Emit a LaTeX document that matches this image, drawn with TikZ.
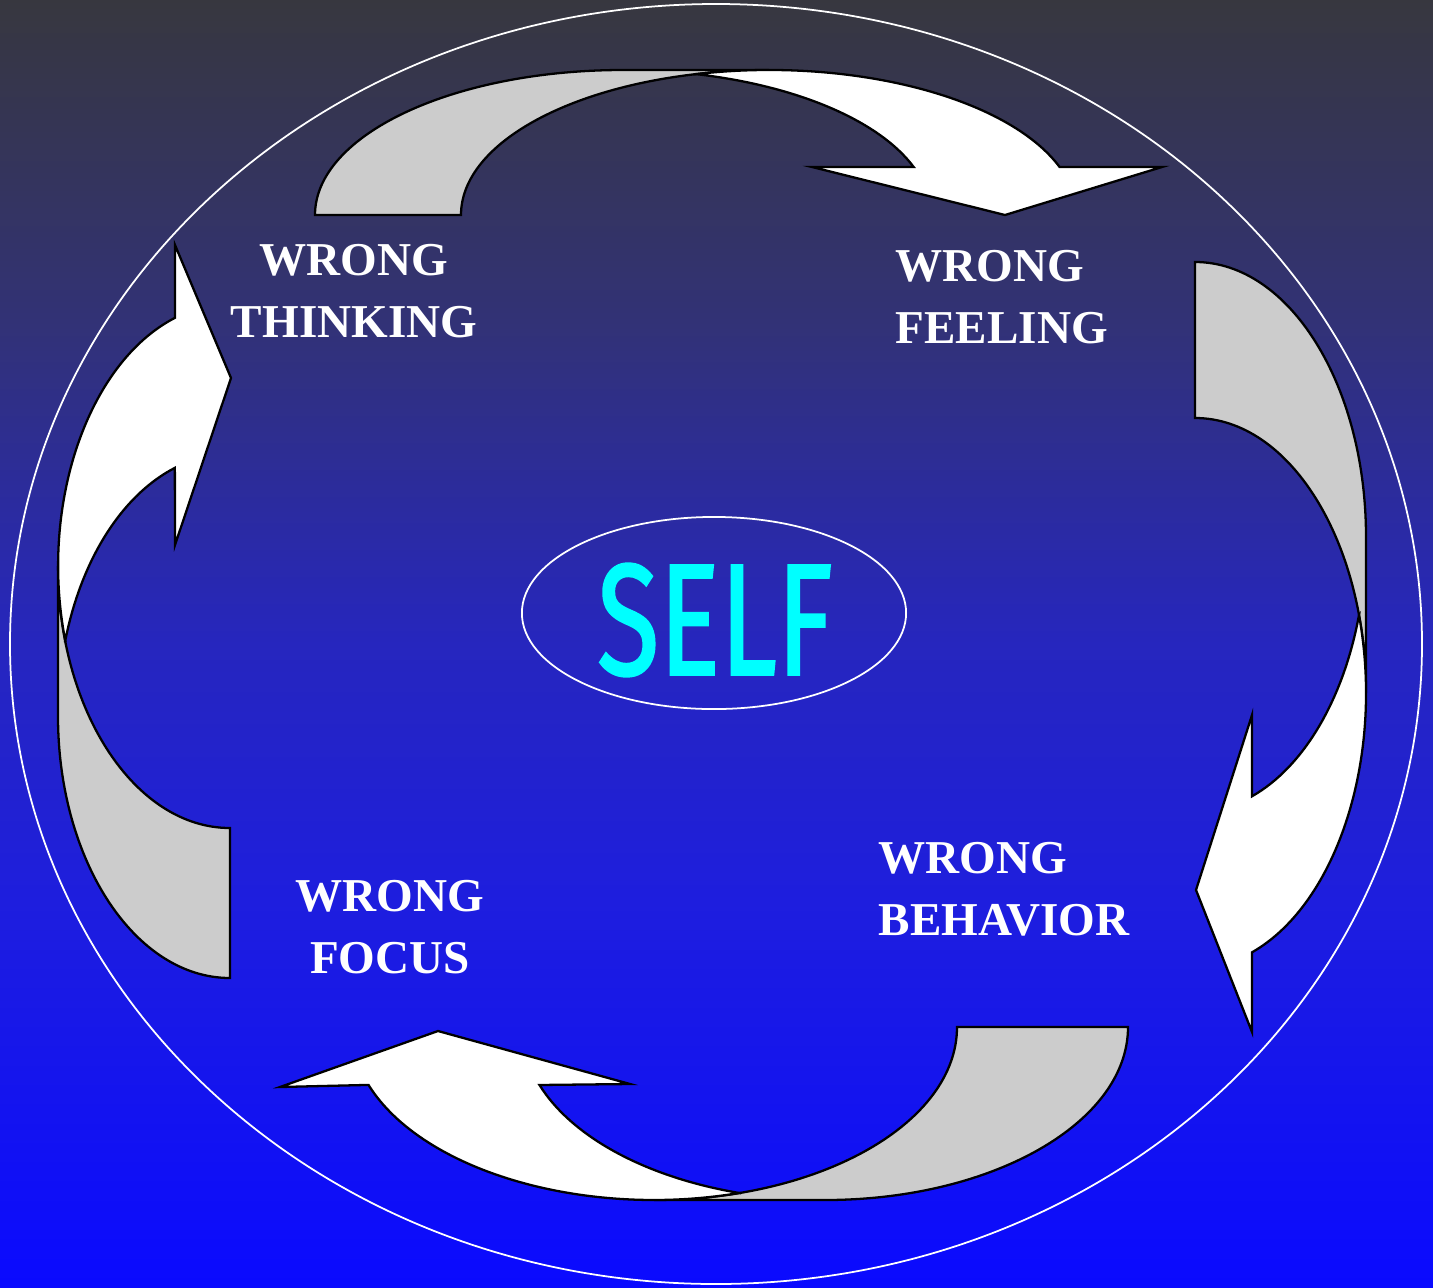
\documentclass[tikz,border=0pt]{standalone}
\usepackage{fontspec}
\usepackage{graphicx}
\usepackage{tikz}
\usetikzlibrary{shapes.geometric}
\setmainfont{Liberation Serif}
\newfontfamily\selffont[FakeBold=1.6]{Fira Sans}
\definecolor{BgTop}{RGB}{55,55,63}
\definecolor{BgUpper}{RGB}{50,50,118}
\definecolor{BgMid}{RGB}{38,38,190}
\definecolor{BgLow}{RGB}{30,30,222}
\definecolor{BgBottom}{RGB}{10,10,255}
\definecolor{Band}{HTML}{CCCCCC}
\definecolor{SelfCyan}{RGB}{0,255,255}
\pgfdeclareverticalshading{bgfade}{100bp}{color(0bp)=(BgBottom); color(25bp)=(BgBottom); color(40bp)=(BgLow); color(50bp)=(BgMid); color(62.5bp)=(BgUpper); color(75bp)=(BgTop); color(100bp)=(BgTop)}

\begin{document}
\begin{tikzpicture}[x=0.01cm,y=-0.01cm,
  band/.style={fill=Band,draw=black,line width=0.65pt},
  front/.style={fill=white,draw=black,line width=0.65pt},
  ring/.style={draw=white,line width=0.5pt},
  wrong/.style={text=white,inner sep=0pt,font=\fontsize{13.4}{17.6}\selectfont\bfseries}]
  \useasboundingbox (0,0) rectangle (1433,1287);
  \shade[shading=bgfade] (0,0) rectangle (1433,1287);
  \draw[ring] (716,644) ellipse [x radius=706,y radius=640];

  % top: thinking -> feeling
  \draw[band] (315,215) arc[start angle=180,end angle=270,x radius=308,y radius=145]
    -- (769,70) arc[start angle=270,end angle=180,x radius=308,y radius=145] -- cycle;
  \draw[front] (696,74.1) arc[start angle=283.71,end angle=340.67,x radius=308,y radius=145]
    -- (812,167) -- (1005,215) -- (1162,167) -- (1059.6,167)
    arc[start angle=340.67,end angle=256.29,x radius=308,y radius=145] -- cycle;

  % right: feeling -> behavior
  \draw[band] (1195,262) arc[start angle=270,end angle=360,x radius=171,y radius=275]
    -- (1366,693) arc[start angle=0,end angle=-90,x radius=171,y radius=275] -- cycle;
  \draw[front] (1359,615) arc[start angle=16.48,end angle=70.53,x radius=171,y radius=275]
    -- (1252,715) -- (1196,890) -- (1252,1032) -- (1252,952.3)
    arc[start angle=70.53,end angle=-16.48,x radius=171,y radius=275] -- cycle;

  % bottom: behavior -> focus
  \draw[band] (1128,1027) arc[start angle=0,end angle=90,x radius=303,y radius=173]
    -- (654,1200) arc[start angle=90,end angle=0,x radius=303,y radius=173] -- cycle;
  \draw[front] (739.5,1193) arc[start angle=106.39,end angle=160.43,x radius=303,y radius=173]
    -- (630,1084) -- (438,1031) -- (280,1087) -- (368.5,1084.9)
    arc[start angle=160.43,end angle=73.61,x radius=303,y radius=173] -- cycle;

  % left: focus -> thinking
  \draw[band] (230,978) arc[start angle=90,end angle=180,x radius=172,y radius=262]
    -- (58,566) arc[start angle=180,end angle=90,x radius=172,y radius=262] -- cycle;
  \draw[front] (65.2,641) arc[start angle=196.64,end angle=251.3,x radius=172,y radius=262]
    -- (175,545) -- (231,378) -- (175,245) -- (175,317.8)
    arc[start angle=251.3,end angle=163.36,x radius=172,y radius=262] -- cycle;

  \node[ring,ellipse,minimum width=3.84cm,minimum height=1.92cm] (selfring) at (714,613) {};
  \node[text=SelfCyan,inner sep=0pt,font=\selffont\fontsize{45}{45}\selectfont] (self) at (715,620) {\scalebox{0.72}[1]{SELF}};

  \node[wrong,align=center] (think) at (354,291) {WRONG\\THINKING};
  \node[wrong,align=left,anchor=west] (feel) at (895,297) {WRONG\\FEELING};
  \node[wrong,align=left,anchor=west] (behave) at (878,889) {WRONG\\BEHAVIOR};
  \node[wrong,align=center] (focus) at (390,927) {WRONG\\FOCUS};
\end{tikzpicture}
\end{document}
